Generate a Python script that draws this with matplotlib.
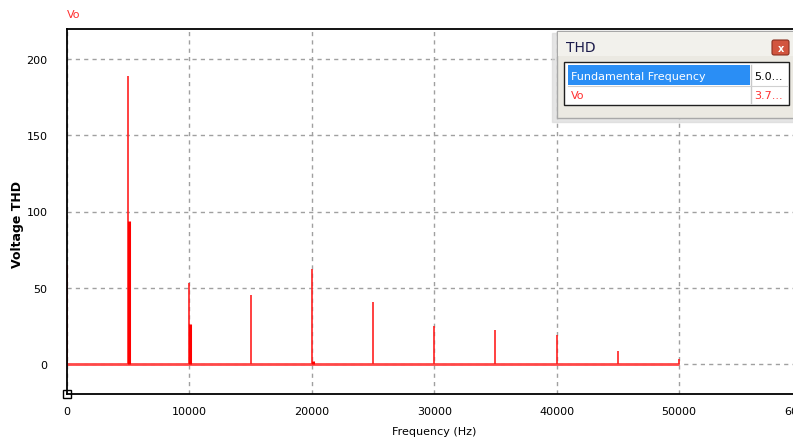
import numpy as np
import matplotlib
matplotlib.use("Agg")
import matplotlib.pyplot as plt
from matplotlib.patches import Rectangle, FancyBboxPatch

# harmonic spectrum of Vo
freqs = [0, 5000, 10000, 15000, 20000, 25000, 30000, 35000, 40000, 45000, 50000]
amps = [65, 189, 53, 45, 62, 40.5, 25, 22, 19, 8, 3]
# second, thicker set of lines at the same spots
freqs2 = [5050, 10080, 20080]
amps2 = [94, 26, 1.5]

xticks = [0, 10000, 20000, 30000, 40000, 50000, 60000]
yticks = [0, 50, 100, 150, 200]

W, H = 793, 439
fig = plt.figure(figsize=(W / 100, H / 100), dpi=100)
fig.patch.set_facecolor("white")

px_per_hz = 612 / 50000
x_max = 62500
left, bottom, top = 67, 395, 30
ax = fig.add_axes([left / W, 1 - bottom / H, x_max * px_per_hz / W, (bottom - top) / H])
ax.set_xlim(0, x_max)
ax.set_ylim(-20, 220)

ax.plot([0, 50000], [0, 0], color="#ff4848", lw=2, solid_capstyle="butt")
ax.vlines(freqs, 0, amps, colors="#ff2020", lw=1.2)
ax.vlines(freqs2, 0, amps2, colors="#ff0000", lw=2.2)

ax.set_xticks(xticks)
ax.set_yticks(yticks)
ax.tick_params(axis="y", length=0, labelsize=8, pad=14)
ax.tick_params(axis="x", length=0, labelsize=8, pad=9)
ax.grid(True, ls=(0, (3, 3)), color="#a0a0a0", lw=1)
ax.set_axisbelow(True)
for s in ["left", "bottom", "top"]:
    ax.spines[s].set_linewidth(1.3)
ax.spines["right"].set_visible(False)
ax.set_xlabel("Frequency (Hz)", fontsize=8)
ax.set_ylabel("Voltage THD", fontsize=9, fontweight="bold")
aw = x_max * px_per_hz
ah = bottom - top
ax.xaxis.set_label_coords((434 - left) / aw, -(427 - bottom) / ah)
ax.yaxis.set_label_coords(-(67 - 24) / aw, (bottom - 224) / ah)
ax.plot([0], [-20], marker="s", ms=6, mfc="white", mec="black", mew=1, clip_on=False)

# overlay in pixel coords for the title and the THD window
ov = fig.add_axes([0, 0, 1, 1], zorder=10)
ov.set_xlim(0, W)
ov.set_ylim(H, 0)
ov.axis("off")
ov.patch.set_alpha(0)
ov.text(67, 15, "Vo", color="#ff3030", fontsize=8, va="center")

# window shadow + frame
ov.add_patch(Rectangle((552, 34), 250, 89, color="#d4d4d4", alpha=0.6))
ov.add_patch(Rectangle((557, 32), 240, 87, fc="#ebe9e2", ec="#a8a8a8", lw=1))
ov.add_patch(Rectangle((558, 33), 238, 24, fc="#f2f1ec", ec="none"))
ov.text(566, 48, "THD", fontsize=10, color="#1a1a4a", va="center")
ov.add_patch(FancyBboxPatch((772, 41), 17, 15, boxstyle="round,pad=0,rounding_size=2",
                            fc="#d2553f", ec="#8a3020", lw=0.8))
ov.text(780.5, 48.5, "x", fontsize=7, color="white", ha="center", va="center", fontweight="bold")
ov.add_patch(Rectangle((564, 63), 225, 43, fc="white", ec="#202020", lw=1))
ov.add_patch(Rectangle((568, 66), 182, 20, fc="#2a8ef5", ec="none"))
ov.plot([751, 751], [66, 104], color="#c8c8c8", lw=1)
ov.plot([568, 787], [86.5, 86.5], color="#d0d0d0", lw=0.8)
ov.text(571, 77, "Fundamental Frequency", fontsize=8, color="white", va="center")
ov.text(754, 77, "5.0...", fontsize=8, color="black", va="center")
ov.text(571, 96, "Vo", fontsize=8, color="#ff3030", va="center")
ov.text(754, 96, "3.7...", fontsize=8, color="#ff3030", va="center")

fig.savefig("out.png", dpi=100)
